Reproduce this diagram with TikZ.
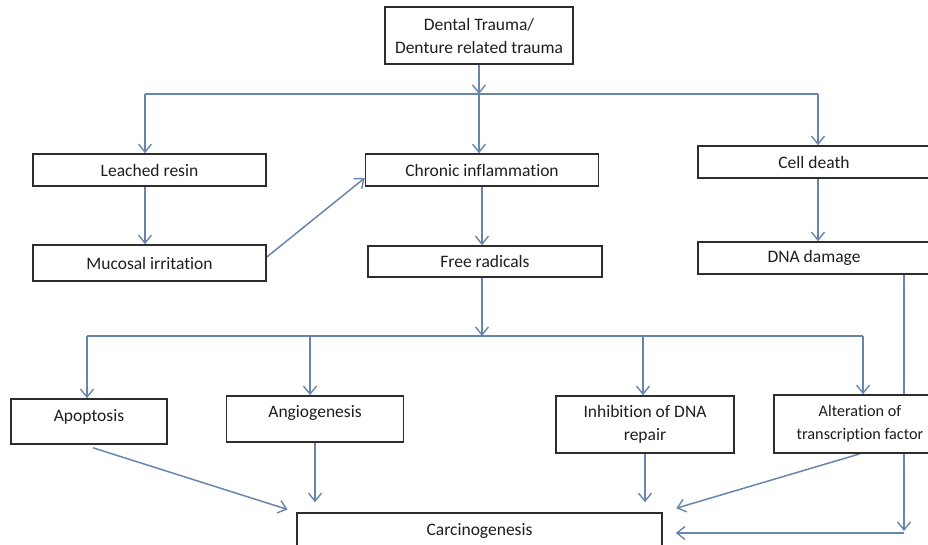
\documentclass[tikz,border=0pt]{standalone}
\usepackage{fontspec}
\setmainfont{Carlito}[Ligatures=CommonOff]
\usepackage{xcolor}
\usetikzlibrary{arrows.meta}
\usetikzlibrary{backgrounds}

\definecolor{linkblue}{RGB}{104,134,172}
\definecolor{boxgray}{RGB}{45,45,45}
\definecolor{txtgray}{RGB}{30,30,30}

\begin{document}
\begin{tikzpicture}[x=1pt,y=-1pt,
  box/.style={draw=boxgray, line width=1.6pt, fill=white, text=txtgray,
    align=center, inner sep=0pt, font=\fontsize{17.5}{23}\selectfont},
  link/.style={draw=linkblue, line width=1.5pt},
  flow/.style={link, -{Straight Barb[length=8pt,width=13pt,line width=1.4pt]}}]
\useasboundingbox (0,0) rectangle (928,544);
\clip (0,0) rectangle (928,544);

% boxes
\node [box, minimum width=188pt, minimum height=57pt] (trauma)
       at (479,35.5) {Dental Trauma/\\Denture related trauma};
\node [box, minimum width=233pt, minimum height=32pt] (resin)
       at (149.5,170) {Leached resin};
\node [box, minimum width=233pt, minimum height=36pt] (irrit)
       at (149.5,263) {Mucosal irritation};
\node [box, minimum width=233pt, minimum height=32pt] (inflam)
       at (482,170) {Chronic inflammation};
\node [box, minimum width=234pt, minimum height=31pt] (radic)
       at (485,261.5) {Free radicals};
\node [box, minimum width=232pt, minimum height=32pt] (death)
       at (814,162) {Cell death};
\node [box, minimum width=232pt, minimum height=32pt] (dnadmg)
       at (814,258) {DNA damage};
\node [box, minimum width=156pt, minimum height=45pt, text depth=12pt] (apop)
       at (89,421.5) {Apoptosis};
\node [box, minimum width=177pt, minimum height=46pt, text depth=16pt] (angio)
       at (315,419) {Angiogenesis};
\node [box, minimum width=178pt, minimum height=57pt] (inhib)
       at (645,424.5) {Inhibition of DNA\\repair};
\node [box, minimum width=172pt, minimum height=58pt,
       font=\fontsize{16.2}{23}\selectfont] (alter)
       at (860,424) {Alteration of\\transcription factor};
\node [box, minimum width=365pt, minimum height=35pt] (carc)
       at (479.5,530.5) {Carcinogenesis};

% connectors
\coordinate (split1) at (479,94);
\coordinate (busL) at (145,94);
\coordinate (busR) at (818,94);
\coordinate (split2) at (482,336);
\coordinate (busL2) at (87,336);
\coordinate (dropA) at (310,336);
\coordinate (dropI) at (643,336);
\coordinate (busR2) at (863,336);
\coordinate (corner) at (904,533);

\begin{pgfonlayer}{background}
\draw [flow] (trauma) -- (split1);
\draw [link] (busL) -- (busR);
\draw [flow] (busL) -- (busL |- resin.north);
\draw [flow] (split1) -- (split1 |- inflam.north);
\draw [flow] (busR) -- (busR |- death.north);
\draw [flow] (resin.south -| busL) -- (irrit.north -| busL);
\draw [flow] ([yshift=6pt]irrit.east) -- ([yshift=-8pt]inflam.west);
\draw [flow] (inflam.south) -- (inflam.south |- radic.north);
\draw [flow] (death.south -| busR) -- (dnadmg.north -| busR);

\draw [flow] (radic.south -| split2) -- (split2);
\draw [link] (busL2) -- (busR2);
\draw [flow] (busL2) -- (busL2 |- apop.north);
\draw [flow] (dropA) -- (dropA |- angio.north);
\draw [flow] (dropI) -- (dropI |- inhib.north);
\draw [flow] (busR2) -- (busR2 |- alter.north);

\draw [flow, shorten >=9pt] ([xshift=4pt,yshift=-3pt]apop.south) -- (carc.north west);
\draw [flow, shorten >=10pt] (angio.south) -- (angio.south |- carc.north);
\draw [flow, shorten >=10pt] (inhib.south) -- (inhib.south |- carc.north);
\draw [flow, shorten >=14pt] (alter.south) -- (carc.north east);
\draw [flow, shorten >=2pt] (dnadmg.south -| corner) -- (corner);
\draw [flow, shorten >=13pt] (corner) -- (carc.east |- corner);
\end{pgfonlayer}
\end{tikzpicture}
\end{document}
